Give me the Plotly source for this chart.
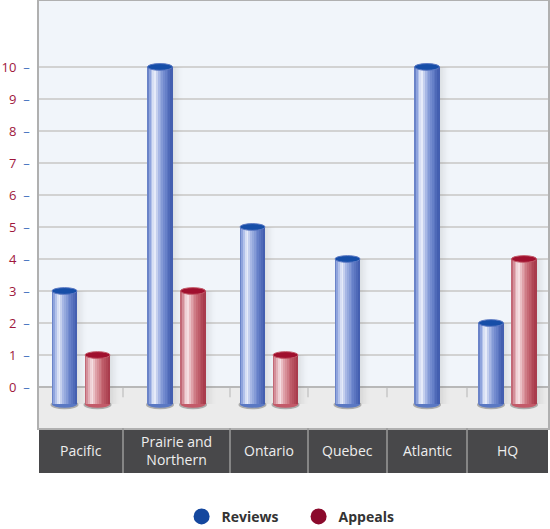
import plotly.graph_objects as go

# ---------------- data ----------------
categories = ["Pacific", "Prairie and Northern", "Ontario", "Quebec", "Atlantic", "HQ"]
category_labels = ["Pacific", "Prairie and<br>Northern", "Ontario", "Quebec", "Atlantic", "HQ"]
reviews = [3, 10, 5, 4, 10, 2]
appeals = [1, 3, 1, 0, 0, 4]
y_ticks = [0, 1, 2, 3, 4, 5, 6, 7, 8, 9, 10]

# ---------------- layout / style constants ----------------
SLOT_W = [84, 107, 78, 79, 80, 81]      # category band widths (axis units)
BAR_W = 25.0
PAIR_OFF = 16.5
BASE = -0.54
ELL_H = 0.21
Y_RANGE = [-1.28, 12.06]
N_STRIP = 14
PLOT_H = 427
BAND_H = 45

BLUE_STOPS = [(0.0, (88, 115, 190)), (0.12, (150, 170, 225)), (0.3, (240, 243, 252)),
              (0.45, (170, 186, 230)), (0.7, (110, 135, 205)), (1.0, (62, 90, 172))]
RED_STOPS = [(0.0, (185, 85, 100)), (0.12, (215, 150, 160)), (0.3, (248, 232, 235)),
             (0.45, (225, 165, 172)), (0.7, (195, 100, 112)), (1.0, (165, 55, 72))]


def shade(stops, t):
    for (p0, c0), (p1, c1) in zip(stops[:-1], stops[1:]):
        if p0 <= t <= p1:
            f = (t - p0) / (p1 - p0)
            c = [round(a + (b - a) * f) for a, b in zip(c0, c1)]
            return f"rgb({c[0]},{c[1]},{c[2]})"
    c = stops[-1][1]
    return f"rgb({c[0]},{c[1]},{c[2]})"


edges = [0]
for w in SLOT_W:
    edges.append(edges[-1] + w)
centers = [(a + b) / 2 for a, b in zip(edges[:-1], edges[1:])]

rev_x, app_x, app_v = [], [], []
for c, r, a in zip(centers, reviews, appeals):
    if a > 0:
        rev_x.append(c - PAIR_OFF)
        app_x.append(c + PAIR_OFF)
        app_v.append(a)
    else:
        rev_x.append(c)

series = [
    (rev_x, reviews, BLUE_STOPS, "rgb(22,78,168)", "rgb(90,120,195)"),
    (app_x, app_v, RED_STOPS, "rgb(160,16,46)", "rgb(195,90,105)"),
]

fig = go.Figure()
shapes = []

# floor
shapes.append(dict(type="rect", xref="paper", yref="y", x0=0, x1=1, y0=Y_RANGE[0], y1=0,
                   fillcolor="#ebebeb", line_width=0, layer="below"))

for xs, vs, stops, top_col, bot_col in series:
    # soft shadow on the right
    n_sh = 10
    for k in range(n_sh):
        alpha = 0.13 * (1 - k / n_sh) ** 1.5
        fig.add_trace(go.Bar(x=xs, y=[v - BASE for v in vs], base=BASE,
                             width=1.0, offset=BAR_W / 2 + k,
                             marker=dict(color=f"rgba(90,90,90,{alpha:.3f})", line_width=0),
                             showlegend=False, hoverinfo="skip"))
    sw = BAR_W / N_STRIP
    for k in range(N_STRIP):
        col = shade(stops, (k + 0.5) / N_STRIP)
        fig.add_trace(go.Bar(x=xs, y=[v - BASE for v in vs], base=BASE,
                             width=sw * 1.08, offset=-BAR_W / 2 + k * sw,
                             marker=dict(color=col, line_width=0),
                             showlegend=False, hoverinfo="skip"))
    for x, v in zip(xs, vs):
        # bottom shadow + bottom ellipse
        shapes.append(dict(type="circle", xref="x", yref="y", x0=x - BAR_W / 2 - 1.5, x1=x + BAR_W / 2 + 1.5,
                           y0=BASE - ELL_H / 2 - 0.05, y1=BASE + ELL_H / 2 + 0.02,
                           fillcolor="rgba(120,120,120,0.55)", line_width=0, layer="between"))
        shapes.append(dict(type="circle", xref="x", yref="y", x0=x - BAR_W / 2, x1=x + BAR_W / 2,
                           y0=BASE - ELL_H / 2, y1=BASE + ELL_H / 2,
                           fillcolor=bot_col, line_width=0, layer="between"))
        # top ellipse
        shapes.append(dict(type="circle", xref="x", yref="y", x0=x - BAR_W / 2, x1=x + BAR_W / 2,
                           y0=v - ELL_H / 2, y1=v + ELL_H / 2,
                           fillcolor=top_col, line=dict(color=bot_col, width=1), layer="above"))

# category band
band_y0 = -BAND_H / PLOT_H
shapes.append(dict(type="rect", xref="paper", yref="paper", x0=0, x1=1, y0=band_y0, y1=0,
                   fillcolor="#48484a", line=dict(color="#48484a", width=0), layer="below"))
for e in edges[1:-1]:
    shapes.append(dict(type="line", xref="x", yref="paper", x0=e, x1=e, y0=band_y0, y1=0,
                       line=dict(color="#9a9a9a", width=1.5), layer="above"))
    shapes.append(dict(type="line", xref="x", yref="y", x0=e, x1=e, y0=0, y1=-0.32,
                       line=dict(color="#b5b5b5", width=1), layer="below"))

annotations = [dict(x=c, y=band_y0 / 2, xref="x", yref="paper", text=lab, showarrow=False,
                    xanchor="center", yanchor="middle",
                    font=dict(color="#eeeeee", size=14, family="Open Sans, sans-serif"))
               for c, lab in zip(centers, category_labels)]

# legend entries
fig.add_trace(go.Scatter(x=[None], y=[None], mode="markers", name="Reviews",
                         marker=dict(symbol="circle", size=16, color="#14479e")))
fig.add_trace(go.Scatter(x=[None], y=[None], mode="markers", name="Appeals",
                         marker=dict(symbol="circle", size=16, color="#8b0a2c")))

fig.update_layout(
    width=550, height=529,
    margin=dict(l=39, r=2, t=1, b=101, autoexpand=False),
    paper_bgcolor="white",
    plot_bgcolor="#f1f5fa",
    barmode="overlay",
    bargap=0,
    shapes=shapes,
    annotations=annotations,
    font=dict(family="Open Sans, sans-serif", size=13),
    showlegend=True,
    legend=dict(orientation="h", x=0.51, xanchor="center", y=-0.208, yanchor="middle",
                font=dict(size=14, color="#333333", family="Open Sans, sans-serif", weight="bold"),
                itemsizing="trace", entrywidth=72, bgcolor="rgba(0,0,0,0)"),
    xaxis=dict(range=[0, edges[-1]], showticklabels=False, automargin=False,
               showgrid=False, zeroline=False, showline=True, linecolor="#b0b0b0", linewidth=1.5,
               mirror=True, ticks="", fixedrange=True),
    yaxis=dict(range=Y_RANGE, tickvals=y_ticks, automargin=False,
               ticktext=[f"{v}  <span style='color:#4f78c2'>–</span>" for v in y_ticks],
               showgrid=True, gridcolor="#d2d2d2", gridwidth=1.5,
               zeroline=True, zerolinecolor="#b8b8b8", zerolinewidth=1.5,
               showline=True, linecolor="#b0b0b0", linewidth=1.5, mirror=True,
               ticks="outside", ticklen=5, tickcolor="rgba(0,0,0,0)",
               tickfont=dict(color="#a0173c", size=13), fixedrange=True),
)

fig.write_html("out.html", config={"displayModeBar": False},
               post_script="document.body.style.margin='0';document.body.style.padding='0';")
